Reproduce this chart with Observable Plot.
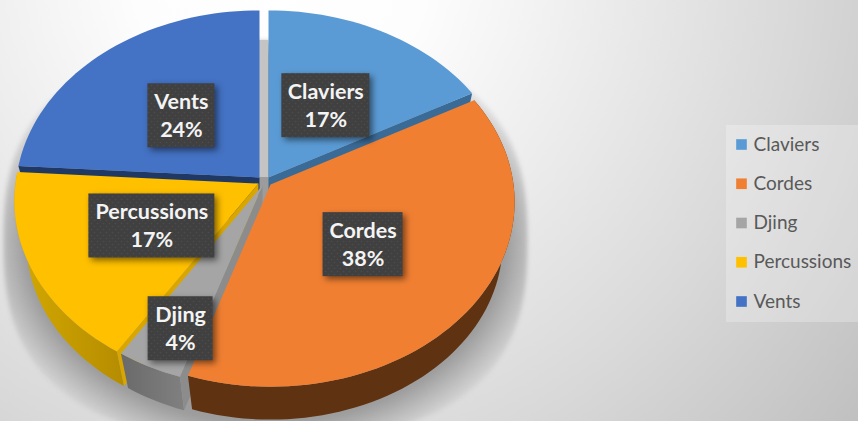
<!DOCTYPE html>
<html><head><meta charset="utf-8">
<style>html,body{margin:0;padding:0;background:#fff}svg{display:block}</style>
<script src="https://cdn.jsdelivr.net/npm/d3@7"></script>
<script src="https://cdn.jsdelivr.net/npm/@observablehq/plot@0.6"></script>
</head><body><div id="chart"></div>
<script>
const categories = ["Claviers","Cordes","Djing","Percussions","Vents"];
const values = [17,38,4,17,24];
const colors = ["#5B9BD5","#F07F32","#A5A5A5","#FFC000","#4472C4"];
const wallColors = ["#3A6A96",null,"#8C8C8C","#D9A600","#1F3864"];
const sideColors = [null,"#5F3212","url(#djingSide)","url(#percSide)",null];

// layout of the tilted, exploded pie
const apexX = [268,270,262,258,259], apexY = [177,184,185,183,177];
const labelR = [.46,.5,.8,.5,.45], boxW = [88,80,65,126,67], boxH = 64;
const labelDx = [2.5,-4,7,4,-5.5], labelDy = [-2,0,1,0,-3.5];
const Rx = 243, Ry = 183, tilt = .095, rimScale = .95, rimDrop = 43;
const shadowCx = 265, shadowCy = 240, shadowA = 262, shadowB = 200, shadowN = 2.6;
const drawOrder = [4,0,3,2,1];
const rad = Math.PI/180;

const total = d3.sum(values);
let acc = 0;
const slices = categories.map((name,i)=>{
  const a0 = acc/total*360; acc += values[i]; const a1 = acc/total*360;
  return {i,name,a0,a1,ax:apexX[i],ay:apexY[i]};
});
function face(s,a,r=1){const u=r*Math.sin(a*rad),v=r*Math.cos(a*rad),k=1/(1+tilt*v);
  return [s.ax+Rx*u*k,s.ay-Ry*v*k];}
function low(s,a,r=1){const [x,y]=face(s,a,r);
  return [s.ax+(x-s.ax)*rimScale,s.ay+(y-s.ay)*rimScale+rimDrop];}
function arc(f,s,a0,a1){const n=Math.max(2,Math.ceil(Math.abs(a1-a0)/2)),out=[];
  for(let j=0;j<=n;j++)out.push(f(s,a0+(a1-a0)*j/n));return out;}

const polys=[]; let pid=0;
function add(pts,fill){const id=pid++;pts.forEach(p=>polys.push({id,x:p[0],y:p[1],fill}));}
for(const i of drawOrder){
  const s=slices[i];
  if(sideColors[i]) add([...arc(face,s,s.a0,s.a1),...arc(low,s,s.a1,s.a0)],sideColors[i]);
  if(wallColors[i]){
    const edge = i===0 ? s.a1 : s.a0;
    add([[s.ax,s.ay],face(s,edge),low(s,edge),low(s,edge,0)],wallColors[i]);
  }
  add([[s.ax,s.ay],...arc(face,s,s.a0,s.a1)],colors[i]);
}
const sup=t=>Math.sign(t)*Math.pow(Math.abs(t),2/shadowN);
const shadow=arc((s,a)=>[shadowCx+shadowA*sup(Math.sin(a*rad)),shadowCy-shadowB*sup(Math.cos(a*rad))],null,0,360)
  .map(p=>({x:p[0],y:p[1]}));
const gap=[{x1:apexX[4],x2:apexX[0],y1:shadowCy-shadowB,y2:apexY[0]}];

const labels=slices.map((s,i)=>{
  const [x,y]=face(s,(s.a0+s.a1)/2,labelR[i]);
  return {x:x+labelDx[i],y:y+labelDy[i],w:boxW[i],text:`${s.name}\n${values[i]}%`};
});
const legend=categories.map((name,i)=>({name,color:colors[i],row:144+i*39.25}));

const defs=()=>d3.create("svg:defs").html(`
<pattern id="dots" width="6" height="6" patternUnits="userSpaceOnUse">
<rect width="6" height="6" fill="#404040"/>
<circle cx="1.5" cy="1.5" r=".8" fill="#4c4c4c"/><circle cx="4.5" cy="4.5" r=".8" fill="#4c4c4c"/></pattern>
<radialGradient id="shadowFill" cx=".5" cy=".5" r=".6">
<stop offset=".76" stop-color="#9c9c9c" stop-opacity="1"/><stop offset=".9" stop-color="#9c9c9c" stop-opacity=".15"/></radialGradient>
<linearGradient id="djingSide" x1="0" x2="1" y1="0" y2="0"><stop offset="0" stop-color="#6a6a6a"/><stop offset="1" stop-color="#808080"/></linearGradient>
<linearGradient id="percSide" x1="0" x2="1" y1="0" y2="0"><stop offset="0" stop-color="#d4a900"/><stop offset="1" stop-color="#b58c00"/></linearGradient>`).node();

const plot=Plot.plot({
  width:858,height:421,margin:0,
  x:{domain:[0,858],range:[0,858],axis:null},
  y:{domain:[0,421],range:[0,421],axis:null},
  color:{type:"identity"},
  style:{background:"radial-gradient(circle 740px at 280px -40px, #ffffff 0px, #fdfdfd 150px, #f0f0f0 283px, #d9d9d9 515px, #c0c0c0 740px)",fontFamily:"Lato, sans-serif",overflow:"hidden"},
  marks:[
    defs,
    Plot.line(shadow,{x:"x",y:"y",fill:"url(#shadowFill)",stroke:null,imageFilter:"blur(2px)"}),
    Plot.rect(gap,{x1:"x1",x2:"x2",y1:"y1",y2:"y2",fill:"#c4c4c4"}),
    Plot.rect([0],{x1:726,x2:858,y1:125,y2:322,fill:"#fff",fillOpacity:.25}),
    Plot.line(polys,{x:"x",y:"y",z:"id",fill:"fill",stroke:null}),
    Plot.rect(labels,{x1:d=>d.x-d.w/2,x2:d=>d.x+d.w/2,y1:d=>d.y-boxH/2,y2:d=>d.y+boxH/2,fill:"url(#dots)",imageFilter:"drop-shadow(3px 3px 3px rgba(0,0,0,.5))"}),
    Plot.text(labels,{x:"x",y:"y",dy:-2,text:"text",fill:"#f4f4f4",fontSize:21.5,fontWeight:700,lineHeight:1.3}),
    Plot.dot(legend,{x:()=>741,y:"row",symbol:"square",r:6,fill:"color",stroke:null}),
    Plot.text(legend,{x:()=>753,y:"row",text:"name",textAnchor:"start",fontSize:19,fill:"#595959"})
  ]
});
document.getElementById("chart").append(plot);
</script></body></html>
